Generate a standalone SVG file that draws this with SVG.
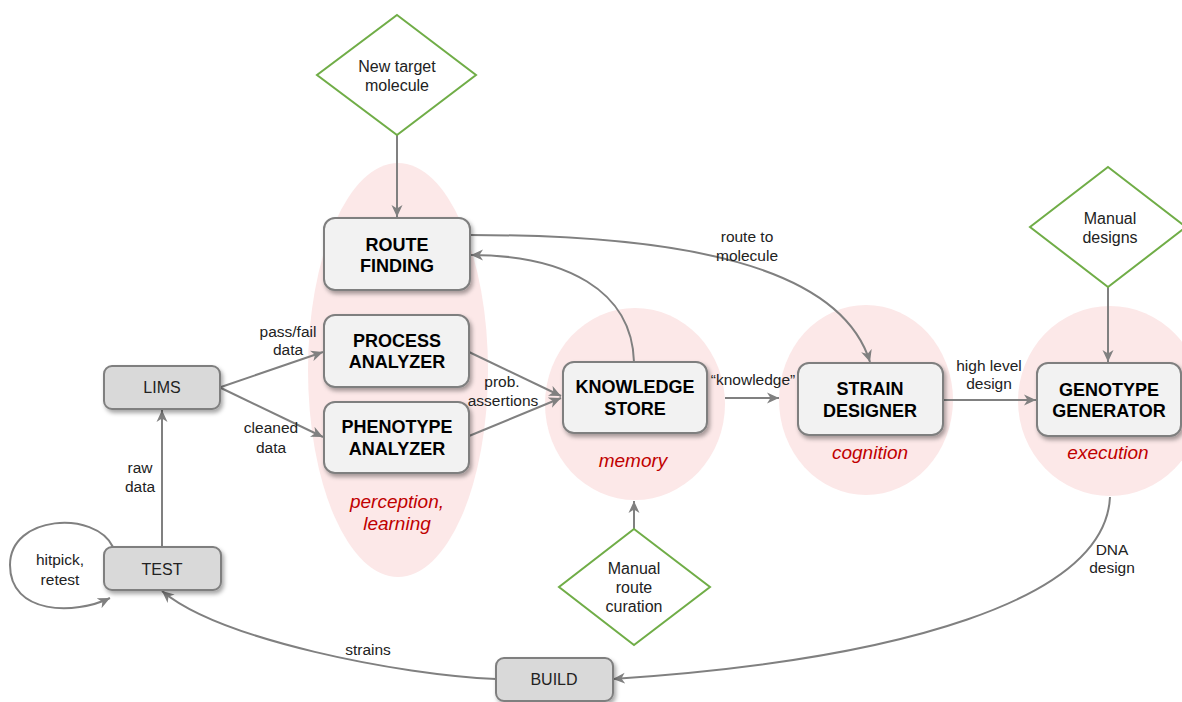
<svg xmlns="http://www.w3.org/2000/svg" width="1182" height="702" viewBox="0 0 1182 702">
<defs>
<style>
.zone{fill:#fce8e8;stroke:none}
.big{fill:#f2f2f2;stroke:#7f7f7f;stroke-width:2}
.small{fill:#d9d9d9;stroke:#7f7f7f;stroke-width:2}
.dia{fill:#ffffff;stroke:#70ad47;stroke-width:2}
.con{fill:none;stroke:#808080;stroke-width:2}
.arr{marker-end:url(#ah)}
.bt{font-family:"Liberation Sans",Arial,sans-serif;font-weight:bold;font-size:18px;fill:#000;text-anchor:middle}
.st{font-family:"Liberation Sans",Arial,sans-serif;font-size:16px;fill:#222;text-anchor:middle}
.lt{font-family:"Liberation Sans",Arial,sans-serif;font-size:15.5px;fill:#222;text-anchor:middle}
.rt{font-family:"Liberation Sans",Arial,sans-serif;font-style:italic;font-size:19px;fill:#c00000;text-anchor:middle}
</style>
<filter id="sh" x="-20%" y="-20%" width="140%" height="160%">
<feDropShadow dx="2" dy="3" stdDeviation="2" flood-color="#000" flood-opacity="0.35"/>
</filter>
<marker id="ah" markerUnits="userSpaceOnUse" markerWidth="14" markerHeight="12" refX="12" refY="6" orient="auto">
<path d="M0,0.5 L12,6 L0,11.5 L3.5,6 z" fill="#808080"/>
</marker>
</defs>
<rect width="1182" height="702" fill="#ffffff"/>

<g id="zones">
<ellipse class="zone" cx="398" cy="370" rx="90" ry="207"/>
<ellipse class="zone" cx="635" cy="404" rx="90" ry="96"/>
<ellipse class="zone" cx="866" cy="400" rx="87" ry="95"/>
<ellipse class="zone" cx="1110" cy="401" rx="92" ry="95"/>
<text class="rt" x="397" y="508">perception,</text>
<text class="rt" x="397" y="530">learning</text>
<text class="rt" x="633" y="467">memory</text>
<text class="rt" x="870" y="459">cognition</text>
<text class="rt" x="1108" y="459">execution</text>
</g>

<g id="connectors">
<path class="con arr" d="M397,135 L397,217"/>
<path class="con arr" d="M1108,287 L1108,362"/>
<path class="con arr" d="M634,529 L634,501"/>
<path class="con arr" d="M221,387 L323,352"/>
<path class="con arr" d="M221,388 L323,437"/>
<path class="con arr" d="M162,547 L162,410"/>
<path class="con arr" d="M469,352 L561,396"/>
<path class="con arr" d="M469,436 L561,398"/>
<path class="con arr" d="M634,362 C632,290 565,255 471,255"/>
<path class="con arr" d="M470,235 C680,235 840,265 870,362"/>
<path class="con arr" d="M725,398 L779,398"/>
<path class="con arr" d="M943,400 L1036,400"/>
<path class="con arr" d="M1110,497 C1105,600 900,660 613,679"/>
<path class="con arr" d="M496,679 C400,675 220,640 162,591"/>
<path class="con arr" d="M113,547 C95,510 10,515 10,565 C10,615 75,615 110,598"/>
<text class="lt" x="288" y="337">pass/fail</text>
<text class="lt" x="288" y="355">data</text>
<text class="lt" x="271" y="433">cleaned</text>
<text class="lt" x="271" y="453">data</text>
<text class="lt" x="502" y="387">prob.</text>
<text class="lt" x="503" y="406">assertions</text>
<text class="lt" x="140" y="473">raw</text>
<text class="lt" x="140" y="492">data</text>
<text class="lt" x="60" y="565">hitpick,</text>
<text class="lt" x="60" y="585">retest</text>
<text class="lt" x="747" y="242">route to</text>
<text class="lt" x="747" y="261">molecule</text>
<text class="lt" x="753" y="385">“knowledge”</text>
<text class="lt" x="989" y="371">high level</text>
<text class="lt" x="989" y="389">design</text>
<text class="lt" x="368" y="655">strains</text>
<text class="lt" x="1112" y="555">DNA</text>
<text class="lt" x="1112" y="573">design</text>
</g>

<g id="new-target">
<polygon class="dia" points="397,15 476,75 397,135 317,75"/>
<text class="st" x="397" y="72">New target</text>
<text class="st" x="397" y="91">molecule</text>
</g>
<g id="manual-designs">
<polygon class="dia" points="1108,167 1186,227 1108,287 1030,227"/>
<text class="st" x="1110" y="224">Manual</text>
<text class="st" x="1110" y="243">designs</text>
</g>
<g id="manual-route">
<polygon class="dia" points="634,529 710,587 634,645 559,587"/>
<text class="st" x="634" y="574">Manual</text>
<text class="st" x="634" y="593">route</text>
<text class="st" x="634" y="612">curation</text>
</g>

<g id="route-finding">
<rect class="big" filter="url(#sh)" x="324" y="218" width="146" height="72" rx="11"/>
<text class="bt" x="397" y="251">ROUTE</text>
<text class="bt" x="397" y="272">FINDING</text>
</g>
<g id="process-analyzer">
<rect class="big" filter="url(#sh)" x="324" y="315" width="145" height="72" rx="11"/>
<text class="bt" x="397" y="347">PROCESS</text>
<text class="bt" x="397" y="368">ANALYZER</text>
</g>
<g id="phenotype-analyzer">
<rect class="big" filter="url(#sh)" x="324" y="402" width="145" height="71" rx="11"/>
<text class="bt" x="397" y="433">PHENOTYPE</text>
<text class="bt" x="397" y="455">ANALYZER</text>
</g>
<g id="knowledge-store">
<rect class="big" filter="url(#sh)" x="563" y="362" width="144" height="71" rx="11"/>
<text class="bt" x="635" y="393">KNOWLEDGE</text>
<text class="bt" x="635" y="415">STORE</text>
</g>
<g id="strain-designer">
<rect class="big" filter="url(#sh)" x="798" y="363" width="145" height="72" rx="11"/>
<text class="bt" x="870" y="395">STRAIN</text>
<text class="bt" x="870" y="417">DESIGNER</text>
</g>
<g id="genotype-generator">
<rect class="big" filter="url(#sh)" x="1037" y="363" width="144" height="73" rx="11"/>
<text class="bt" x="1109" y="396">GENOTYPE</text>
<text class="bt" x="1109" y="417">GENERATOR</text>
</g>
<g id="lims">
<rect class="small" filter="url(#sh)" x="104" y="366" width="116" height="43" rx="8"/>
<text class="st" x="162" y="393">LIMS</text>
</g>
<g id="test">
<rect class="small" filter="url(#sh)" x="104" y="547" width="117" height="43" rx="8"/>
<text class="st" x="162" y="575">TEST</text>
</g>
<g id="build">
<rect class="small" filter="url(#sh)" x="496" y="658" width="117" height="43" rx="8"/>
<text class="st" x="554" y="685">BUILD</text>
</g>
</svg>
